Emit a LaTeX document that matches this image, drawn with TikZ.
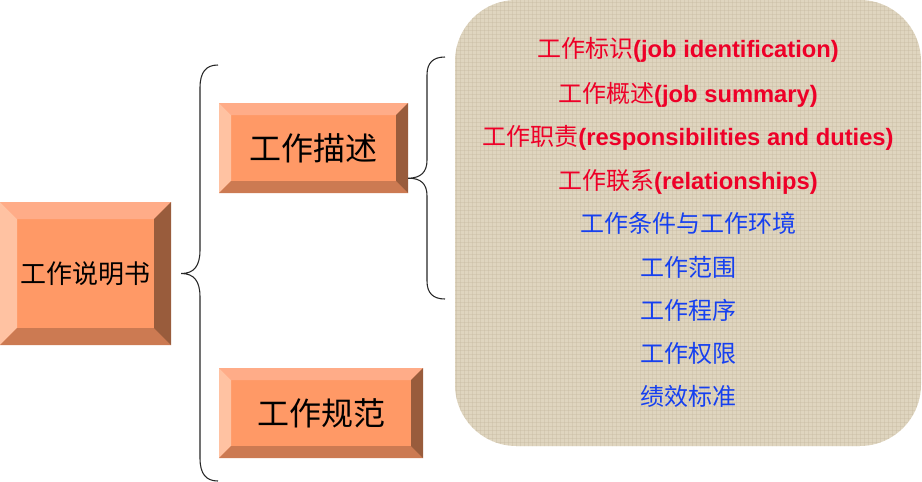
\documentclass[tikz,border=0pt]{standalone}
\usepackage{fontspec}
\setmainfont{Liberation Sans}
\newfontfamily\cjk{Noto Sans CJK SC}
\usetikzlibrary{patterns}
\definecolor{boxface}{RGB}{255,153,102}
\definecolor{bevtop}{RGB}{255,172,136}
\definecolor{bevleft}{RGB}{255,194,162}
\definecolor{bevbottom}{RGB}{204,122,82}
\definecolor{bevright}{RGB}{153,92,60}
\definecolor{linen}{RGB}{223,213,191}
\definecolor{linendark}{RGB}{196,184,158}
\definecolor{itemred}{RGB}{238,0,40}
\definecolor{itemblue}{RGB}{22,64,240}

\tikzset{
  bevelbox/.style={fill=boxface, inner sep=0pt, font=\cjk, text=black,
    path picture={
      \path (path picture bounding box.north west) coordinate (bnw)
            (path picture bounding box.north east) coordinate (bne)
            (path picture bounding box.south west) coordinate (bsw)
            (path picture bounding box.south east) coordinate (bse);
      \fill[bevtop] (bnw) -- (bne) -- ([shift={(-#1,-#1)}]bne) -- ([shift={(#1,-#1)}]bnw) -- cycle;
      \fill[bevleft] (bnw) -- (bsw) -- ([shift={(#1,#1)}]bsw) -- ([shift={(#1,-#1)}]bnw) -- cycle;
      \fill[bevbottom] (bsw) -- (bse) -- ([shift={(-#1,#1)}]bse) -- ([shift={(#1,#1)}]bsw) -- cycle;
      \fill[bevright] (bne) -- (bse) -- ([shift={(-#1,#1)}]bse) -- ([shift={(-#1,-#1)}]bne) -- cycle;
    }},
  bracestyle/.style={draw=black!85, line width=0.8pt},
  reditem/.style={text=itemred, font=\fontsize{17.8}{20}\selectfont, inner sep=0pt},
  blueitem/.style={text=itemblue, font=\cjk\fontsize{18}{20}\selectfont, inner sep=0pt}
}

\begin{document}
\begin{tikzpicture}[x=0.75pt, y=-0.75pt]
  \useasboundingbox (0,0) rectangle (922,482);

  % textured panel
  \fill[linen, rounded corners=46pt] (455,0) rectangle (921,446);
  \fill[pattern=grid, pattern color=linendark, opacity=0.35, rounded corners=46pt] (455,0) rectangle (921,446);

  % boxes
  \node[bevelbox=12.75pt, minimum width=128.25pt, minimum height=107.25pt,
        font=\cjk\fontsize{19.5}{22}\selectfont] (book) at (85.5,273.5) {工作说明书};
  \node[bevelbox=9pt, minimum width=141.75pt, minimum height=67.5pt,
        font=\cjk\fontsize{24}{26}\selectfont] (desc) at (313.5,148) {工作描述};
  \node[bevelbox=9pt, minimum width=153pt, minimum height=67.5pt,
        font=\cjk\fontsize{24}{26}\selectfont] (spec) at (321,413) {工作规范};

  % braces
  \coordinate (tipA) at ([xshift=7.5pt]book.east);
  \coordinate (tipB) at ([yshift=11.25pt]desc.south east);
  \draw[bracestyle] (218,65) .. controls (206,65) and (200,72) .. (200,88) -- (200,250)
    .. controls (200,266) and (194,273.5) .. (tipA)
    .. controls (194,273.5) and (200,281) .. (200,297) -- (200,458)
    .. controls (200,474) and (206,481) .. (218,481);
  \draw[bracestyle] (445,57) .. controls (433,57) and (427,63) .. (427,75) -- (427,160)
    .. controls (427,172) and (421,178) .. (tipB)
    .. controls (421,178) and (427,184) .. (427,196) -- (427,281)
    .. controls (427,293) and (433,299) .. (445,299);

  % items
  \node[reditem] (ident) at (688,50) {{\cjk\fontsize{18}{20}\selectfont 工作标识}\textbf{(job identification)}};
  \node[reditem] (summ) at (688,95) {{\cjk\fontsize{18}{20}\selectfont 工作概述}\textbf{(job summary)}};
  \node[reditem] (duty) at (688,138) {{\cjk\fontsize{18}{20}\selectfont 工作职责}\textbf{(responsibilities and duties)}};
  \node[reditem] (relat) at (688,182) {{\cjk\fontsize{18}{20}\selectfont 工作联系}\textbf{(relationships)}};
  \node[blueitem] (cond) at (688,223) {工作条件与工作环境};
  \node[blueitem] (scope) at (688,267) {工作范围};
  \node[blueitem] (proc) at (688,310) {工作程序};
  \node[blueitem] (auth) at (688,353) {工作权限};
  \node[blueitem] (perf) at (688,396) {绩效标准};
\end{tikzpicture}
\end{document}
